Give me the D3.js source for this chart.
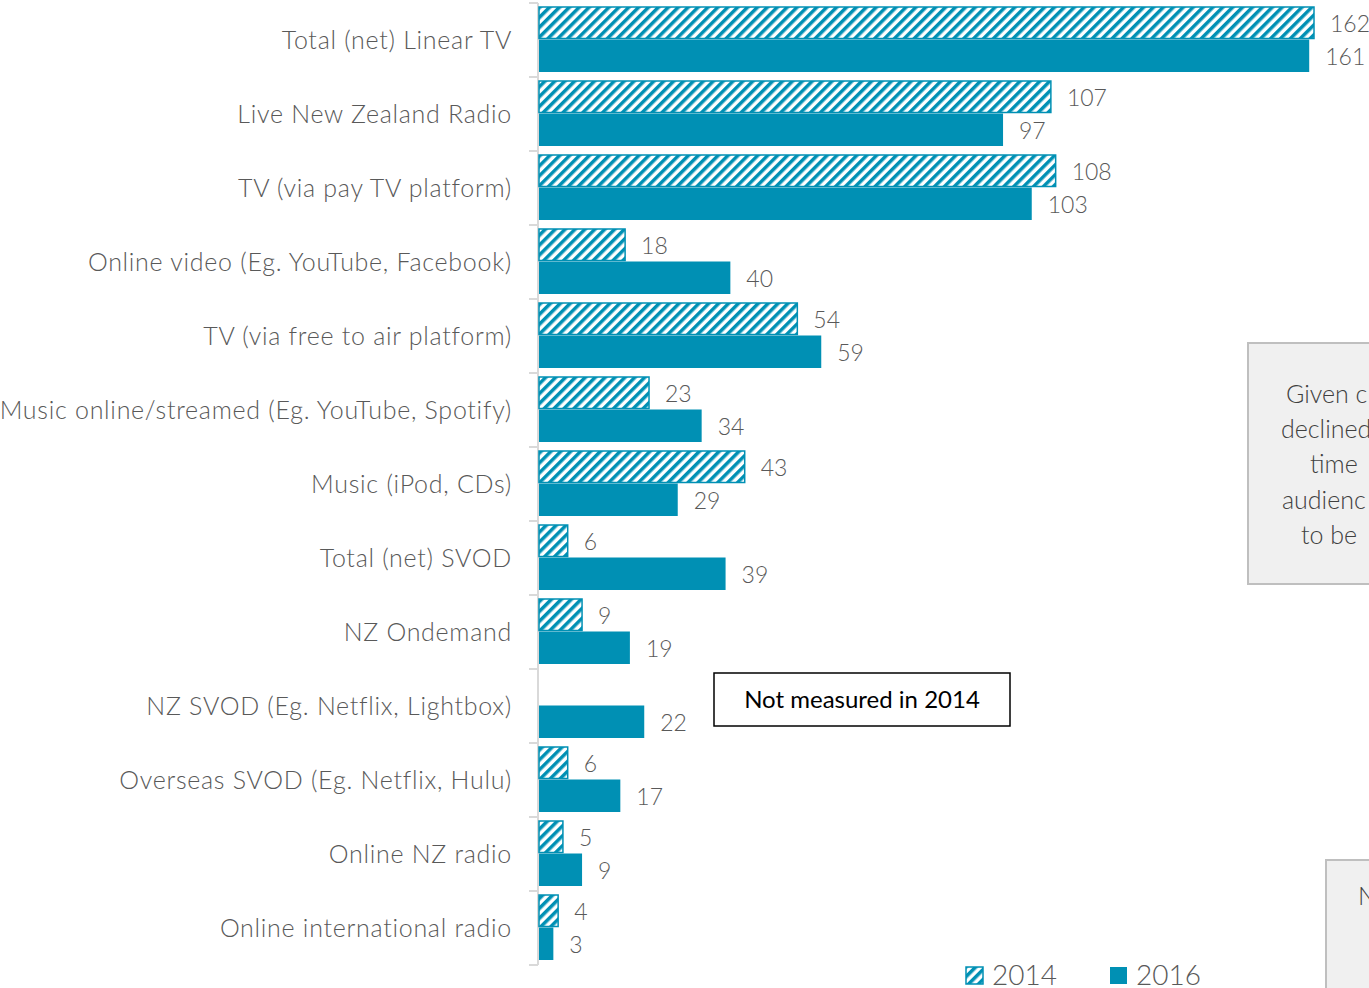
<!DOCTYPE html>
<html>
<head>
<meta charset="utf-8">
<script src="https://cdn.jsdelivr.net/npm/d3@7"></script>
<style>
  html, body { margin: 0; padding: 0; background: white; overflow: hidden; }
  svg { display: block; font-family: Lato, "Open Sans", sans-serif; }
</style>
</head>
<body>
<div class="container"></div>
<script>
const categories = [
  "Total (net) Linear TV",
  "Live New Zealand Radio",
  "TV (via pay TV platform)",
  "Online video (Eg. YouTube, Facebook)",
  "TV (via free to air platform)",
  "Music online/streamed (Eg. YouTube, Spotify)",
  "Music (iPod, CDs)",
  "Total (net) SVOD",
  "NZ Ondemand",
  "NZ SVOD (Eg. Netflix, Lightbox)",
  "Overseas SVOD (Eg. Netflix, Hulu)",
  "Online NZ radio",
  "Online international radio"
];
const values2014 = [162, 107, 108, 18, 54, 23, 43, 6, 9, null, 6, 5, 4];
const values2016 = [161, 97, 103, 40, 59, 34, 29, 39, 19, 22, 17, 9, 3];
const seriesNames = ["2014", "2016"];
const sideNoteLines = ["Given c", "declined", "time", "audienc", "to be"];

const w = 1369;
const h = 988;
const teal = "#0090b4";
const grey = "#595959";

const svg = d3.select(".container")
  .append("svg")
  .attr("width", w)
  .attr("height", h);

// hatch pattern for 2014
const pat = svg.append("defs").append("pattern")
  .attr("id", "hatch")
  .attr("patternUnits", "userSpaceOnUse")
  .attr("width", 7)
  .attr("height", 7)
  .attr("patternTransform", "rotate(45)");
pat.append("rect").attr("width", 7).attr("height", 7).attr("fill", "white");
pat.append("rect").attr("width", 3.5).attr("height", 7).attr("fill", teal);

const xScale = d3.scaleLinear()
  .domain([0, 162])
  .range([539, 1314]);

const yScale = d3.scaleBand()
  .domain(categories)
  .range([3, 965])
  .paddingInner(0)
  .paddingOuter(0);

const inner = d3.scaleBand()
  .domain(seriesNames)
  .range([4, 69]);

// axis line with ticks at band boundaries
svg.append("line")
  .attr("x1", 538).attr("x2", 538)
  .attr("y1", yScale.range()[0]).attr("y2", yScale.range()[1])
  .attr("stroke", "#d9d9d9").attr("stroke-width", 2);
const bounds = categories.map(c => yScale(c)).concat([yScale.range()[1]]);
svg.selectAll(".tick")
  .data(bounds)
  .enter()
  .append("line")
  .attr("x1", 529).attr("x2", 538)
  .attr("y1", d => d).attr("y2", d => d)
  .attr("stroke", "#d9d9d9").attr("stroke-width", 2);

// category labels
svg.selectAll(".cat")
  .data(categories)
  .enter()
  .append("text")
  .attr("x", 512)
  .attr("y", d => yScale(d) + yScale.bandwidth() / 2)
  .attr("dy", "0.35em")
  .attr("text-anchor", "end")
  .attr("font-size", 25)
  .attr("letter-spacing", 0.72)
  .attr("font-weight", 300)
  .attr("fill", grey)
  .text(d => d);

const rows = categories.map((c, i) => ({ c, v14: values2014[i], v16: values2016[i] }));

// 2014 bars
svg.selectAll(".b14")
  .data(rows.filter(d => d.v14 !== null))
  .enter()
  .append("rect")
  .attr("x", xScale(0))
  .attr("y", d => yScale(d.c) + inner("2014"))
  .attr("width", d => xScale(d.v14) - xScale(0))
  .attr("height", inner.bandwidth() - 1)
  .attr("fill", "url(#hatch)")
  .attr("stroke", teal)
  .attr("stroke-width", 1.5);

// 2016 bars
svg.selectAll(".b16")
  .data(rows)
  .enter()
  .append("rect")
  .attr("x", xScale(0))
  .attr("y", d => yScale(d.c) + inner("2016"))
  .attr("width", d => xScale(d.v16) - xScale(0))
  .attr("height", inner.bandwidth())
  .attr("fill", teal);

// value labels
svg.selectAll(".l14")
  .data(rows.filter(d => d.v14 !== null))
  .enter()
  .append("text")
  .attr("x", d => xScale(d.v14) + 16)
  .attr("y", d => yScale(d.c) + inner("2014") + inner.bandwidth() / 2 + 1)
  .attr("dy", "0.35em")
  .attr("font-size", 23)
  .attr("font-weight", 300)
  .attr("fill", grey)
  .text(d => d.v14);

svg.selectAll(".l16")
  .data(rows)
  .enter()
  .append("text")
  .attr("x", d => xScale(d.v16) + 16)
  .attr("y", d => yScale(d.c) + inner("2016") + inner.bandwidth() / 2 + 1)
  .attr("dy", "0.35em")
  .attr("font-size", 23)
  .attr("font-weight", 300)
  .attr("fill", grey)
  .text(d => d.v16);

// "Not measured" note
svg.append("rect")
  .attr("x", 714).attr("y", 673)
  .attr("width", 296).attr("height", 53)
  .attr("fill", "white").attr("stroke", "black").attr("stroke-width", 1.5);
svg.append("text")
  .attr("x", 862).attr("y", 700)
  .attr("dy", "0.35em")
  .attr("text-anchor", "middle")
  .attr("font-size", 24)
  .attr("fill", "black")
  .text("Not measured in 2014");

// side notes (cut by the page edge)
svg.append("rect")
  .attr("x", 1248).attr("y", 343)
  .attr("width", 200).attr("height", 241)
  .attr("fill", "#f0f0f0").attr("stroke", "#bfbfbf").attr("stroke-width", 2);
const noteX = [1286, 1281, 1310, 1282, 1301];
svg.selectAll(".note")
  .data(sideNoteLines)
  .enter()
  .append("text")
  .attr("x", (d, i) => noteX[i])
  .attr("y", (d, i) => 394 + i * 35.3)
  .attr("dy", "0.35em")
  .attr("font-size", 25)
  .attr("font-weight", 300)
  .attr("fill", "#404040")
  .text(d => d);

svg.append("rect")
  .attr("x", 1326).attr("y", 860)
  .attr("width", 200).attr("height", 200)
  .attr("fill", "#f0f0f0").attr("stroke", "#bfbfbf").attr("stroke-width", 2);
svg.append("text")
  .attr("x", 1358).attr("y", 896)
  .attr("dy", "0.35em")
  .attr("font-size", 25)
  .attr("font-weight", 300)
  .attr("fill", "#404040")
  .text("N");

// legend
const legend = svg.append("g");
const legX = [966, 1110];
seriesNames.forEach((s, i) => {
  legend.append("rect")
    .attr("x", legX[i]).attr("y", 967)
    .attr("width", 17).attr("height", 17)
    .attr("fill", i === 0 ? "url(#hatch)" : teal)
    .attr("stroke", i === 0 ? teal : "none")
    .attr("stroke-width", 1.5);
  legend.append("text")
    .attr("x", legX[i] + 26).attr("y", 975)
    .attr("dy", "0.35em")
    .attr("font-size", 28)
    .attr("font-weight", 300)
    .attr("fill", grey)
    .text(s);
});
</script>
</body>
</html>
